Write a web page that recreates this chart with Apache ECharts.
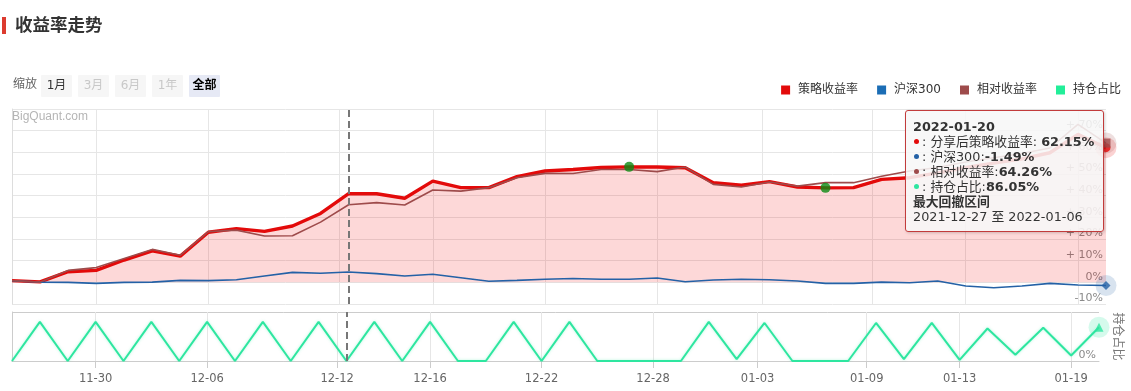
<!DOCTYPE html>
<html><head><meta charset="utf-8">
<script src="https://cdn.jsdelivr.net/npm/echarts@6/dist/echarts.min.js"></script>
<style>html,body{margin:0;padding:0;background:#fff}#c{width:1131px;height:391px}</style>
</head><body><div id="c"></div>
<script>
const dates = ['2021-11-25','2021-11-26','2021-11-29','2021-11-30','2021-12-01','2021-12-02','2021-12-03','2021-12-06','2021-12-07','2021-12-08','2021-12-09','2021-12-10','2021-12-13','2021-12-14','2021-12-15','2021-12-16','2021-12-17','2021-12-20','2021-12-21','2021-12-22','2021-12-23','2021-12-24','2021-12-27','2021-12-28','2021-12-29','2021-12-30','2021-12-31','2022-01-04','2022-01-05','2022-01-06','2022-01-07','2022-01-10','2022-01-11','2022-01-12','2022-01-13','2022-01-14','2022-01-17','2022-01-18','2022-01-19','2022-01-20'];
const strategy = [0.8,0.2,4.9,5.5,10.3,14.5,12.1,23.1,24.8,23.5,26.0,31.8,40.9,40.9,38.8,46.7,43.7,43.7,48.8,51.4,52.1,53.0,53.3,53.2,52.9,46.0,44.8,46.5,44.0,43.6,43.7,47.5,48.3,50.5,53.0,55.0,57.0,59.8,68.3,62.15];
const hs300 = [0.7,0.1,0.0,-0.5,0.0,0.1,0.9,0.8,1.2,2.9,4.6,4.2,4.8,4.0,2.9,3.7,2.1,0.5,0.9,1.4,1.8,1.4,1.4,2.0,0.3,1.1,1.4,1.2,0.6,-0.5,-0.5,0.1,-0.2,0.6,-1.7,-2.5,-1.7,-0.5,-1.2,-1.49];
const relative = [0.8,0.1,5.5,6.8,11.0,15.2,12.5,23.4,24.1,21.4,21.5,27.8,35.8,36.8,35.7,42.6,42.1,43.7,48.3,50.3,50.2,52.1,52.1,51.1,53.2,45.2,44.0,46.3,44.4,46.0,46.0,49.0,51.4,53.0,55.5,57.5,59.5,62.0,72.9,64.26];
const position = [0,100,0,100,0,100,0,100,0,100,0,100,0,100,0,100,0,0,100,0,100,0,0,0,0,100,5,97,0,0,0,97,5,97,3,83,16,85,14,86.05];
const tickDates = ['2021-11-30','2021-12-06','2021-12-12','2021-12-16','2021-12-22','2021-12-28','2022-01-03','2022-01-09','2022-01-13','2022-01-19'];
const markDate = '2021-12-13';
const drawdownStart = '2021-12-27';
const drawdownEnd = '2022-01-06';
const zoomLabels = ['1月','3月','6月','1年','全部'];
const seriesNames = ['策略收益率','沪深300','相对收益率','持仓占比'];

const FONT = '"DejaVu Sans","Noto Sans CJK SC",sans-serif';
const C_RED = '#e30a0a', C_BLUE = '#2461a6', C_BROWN = '#9e4b4b', C_GREEN = '#2ee6a0';

function dayNum(s){ return Date.parse(s + 'T00:00:00Z') / 86400000; }
const dn = dates.map(dayNum);
function posOf(s){
  const d = dayNum(s);
  for (let i = 0; i < dn.length - 1; i++) {
    if (d >= dn[i] && d < dn[i+1]) return i + (d - dn[i]) / (dn[i+1] - dn[i]);
  }
  return dn.length - 1;
}
const tickPos = tickDates.map(posOf);
const last = dates.length - 1;
const markIdx = posOf(markDate);
const ddS = dates.indexOf(drawdownStart), ddE = dates.indexOf(drawdownEnd);

function xLabel(v){
  let k = 0, b = 1e9;
  tickPos.forEach((p, j) => { const d = Math.abs(p - v); if (d < b) { b = d; k = j; } });
  return tickDates[k].slice(5);
}
const pts = arr => arr.map((v, i) => [i, v]);
const dot = c => '<span style="display:inline-block;width:5px;height:5px;border-radius:50%;background:' + c + ';vertical-align:middle;margin:0 3px 2px 1px"></span>';

const tipHtml =
  '<div style="font-weight:bold">' + dates[last] + '</div>' +
  '<div>' + dot(C_RED) + ': 分享后策略收益率: <b>' + strategy[last].toFixed(2) + '%</b></div>' +
  '<div>' + dot(C_BLUE) + ': 沪深300:<b>' + hs300[last].toFixed(2) + '%</b></div>' +
  '<div>' + dot(C_BROWN) + ': 相对收益率:<b>' + relative[last].toFixed(2) + '%</b></div>' +
  '<div>' + dot(C_GREEN) + ': 持仓占比:<b>' + position[last].toFixed(2) + '%</b></div>' +
  '<div style="font-weight:bold">最大回撤区间</div>' +
  '<div>' + drawdownStart + ' 至 ' + drawdownEnd + '</div>';

const btnX = [41, 78, 115, 152, 189];
const graphics = [
  {type:'rect', left:2, top:17, shape:{width:4, height:17}, style:{fill:'#dc3b2f'}},
  {type:'text', x:15, y:26, style:{text:'收益率走势', verticalAlign:'middle', fontSize:17.5, fontWeight:'bold', fill:'#333', fontFamily:FONT}},
  {type:'text', left:13, top:79, style:{text:'缩放', fontSize:12, fill:'#666', fontFamily:FONT}},
  {type:'text', left:12, top:111, z:100, style:{text:'BigQuant.com', fontSize:12, fill:'#b5b5b5', fontFamily:'"Liberation Sans",Arial,sans-serif'}}
];
zoomLabels.forEach((t, j) => {
  const active = j === 4, enabled = j === 0 || j === 4;
  graphics.push({type:'rect', left:btnX[j], top:75, shape:{width:31, height:22, r:1}, style:{fill: active ? '#e6e9f5' : '#f6f6f6'}});
  graphics.push({type:'text', x:btnX[j] + 15.5, y:86, style:{text:t, align:'center', verticalAlign:'middle', fontSize:12, fontWeight: active ? 'bold' : 'normal', fill: active ? '#000' : (enabled ? '#333' : '#c8c8c8'), fontFamily:FONT}});
});

const chart = echarts.init(document.getElementById('c'), null, {renderer:'canvas'});
chart.setOption({
  animation:false,
  textStyle:{fontFamily:FONT},
  graphic:graphics,
  legend:{
    right:5, top:79, itemWidth:9, itemHeight:9, itemGap:19, icon:'rect',
    textStyle:{fontSize:12, color:'#333', padding:[0,0,0,3]},
    data:seriesNames.map((n, i) => ({name:n, itemStyle:{color:[C_RED, '#1b6db5', C_BROWN, '#22ee99'][i]}}))
  },
  tooltip:{
    show:true, trigger:'item', triggerOn:'mousemove', alwaysShowContent:true, position:[905,110],
    transitionDuration:0, padding:[8,9,7,7], backgroundColor:'rgba(247,247,247,0.88)',
    borderColor:'#c23b3b', borderWidth:1, borderRadius:3,
    textStyle:{fontSize:12.8, color:'#333', fontFamily:FONT},
    extraCssText:'box-shadow:1px 1px 3px rgba(0,0,0,0.18);line-height:15px;',
    formatter:() => tipHtml
  },
  grid:[
    {left:12, right:25, top:109, height:195},
    {left:12, right:25, top:312, height:49}
  ],
  xAxis:[
    {gridIndex:0, type:'value', min:0, max:last, axisLine:{show:false}, axisLabel:{show:false},
     axisTick:{show:false, customValues:tickPos}, splitLine:{show:true, lineStyle:{color:'#e6e6e6'}}},
    {gridIndex:1, type:'value', min:0, max:last, axisLine:{show:true, lineStyle:{color:'#ccc'}},
     axisTick:{show:true, length:7, lineStyle:{color:'#ccc'}, customValues:tickPos},
     axisLabel:{show:true, customValues:tickPos, formatter:xLabel, color:'#666', fontSize:11.5, margin:12},
     splitLine:{show:true, lineStyle:{color:'#e6e6e6'}}}
  ],
  yAxis:[
    {gridIndex:0, type:'value', position:'right', min:-10, max:80, interval:10,
     axisLine:{show:true, lineStyle:{color:'#ddd'}}, axisTick:{show:false},
     splitLine:{lineStyle:{color:'#e6e6e6'}},
     axisLabel:{inside:true, margin:3, verticalAlign:'bottom', color:'#8a8a8a', fontSize:11, showMaxLabel:false,
       formatter:v => (v > 0 ? '+ ' : '') + v + '%'}},
    {gridIndex:1, type:'value', position:'right', min:0, max:125, interval:125,
     axisLine:{show:true, lineStyle:{color:'#ccc'}}, axisTick:{show:false},
     splitLine:{lineStyle:{color:'#ccc'}},
     axisLabel:{inside:true, margin:3, verticalAlign:'bottom', color:'#8a8a8a', fontSize:11, showMaxLabel:false,
       formatter:v => v + '%'},
     name:'持仓占比', nameLocation:'middle', nameRotate:-90, nameGap:12,
     nameTextStyle:{color:'#777', fontSize:12}}
  ],
  series:[
    {name:seriesNames[0], type:'line', xAxisIndex:0, yAxisIndex:0, data:pts(strategy), symbol:'none',
     lineStyle:{color:C_RED, width:3.4}, itemStyle:{color:C_RED}, areaStyle:{color:'rgba(245,0,0,0.22)'},
     emphasis:{disabled:true}, tooltip:{show:false},
     markLine:{silent:true, symbol:'none', label:{show:false}, lineStyle:{color:'#777', type:[7,4], width:2}, data:[{xAxis:markIdx}]}},
    {name:seriesNames[1], type:'line', xAxisIndex:0, yAxisIndex:0, data:pts(hs300), symbol:'none',
     lineStyle:{color:C_BLUE, width:1.6}, itemStyle:{color:C_BLUE}, emphasis:{disabled:true}, tooltip:{show:false}},
    {name:seriesNames[2], type:'line', xAxisIndex:0, yAxisIndex:0, data:pts(relative), symbol:'none',
     lineStyle:{color:C_BROWN, width:1.6}, itemStyle:{color:C_BROWN}, emphasis:{disabled:true}, tooltip:{show:false}},
    {name:seriesNames[3], type:'line', xAxisIndex:1, yAxisIndex:1, data:pts(position), symbol:'none',
     lineStyle:{color:C_GREEN, width:2, shadowColor:'rgba(46,230,160,0.35)', shadowBlur:3}, itemStyle:{color:C_GREEN},
     emphasis:{disabled:true}, tooltip:{show:false},
     markLine:{silent:true, symbol:'none', label:{show:false}, lineStyle:{color:'#777', type:[7,4], width:2}, data:[{xAxis:markIdx}]}},
    {name:'回撤点', type:'scatter', xAxisIndex:0, yAxisIndex:0, silent:true, z:6, symbolSize:10,
     itemStyle:{color:'#0b8a12'}, tooltip:{show:false},
     data:[[ddS, strategy[ddS]], [ddE, strategy[ddE]]]},
    {name:'halo', type:'scatter', xAxisIndex:0, yAxisIndex:0, silent:true, z:5, symbolSize:21, tooltip:{show:false},
     data:[
       {value:[last, strategy[last]], itemStyle:{color:'rgba(230,0,0,0.22)'}},
       {value:[last, relative[last]], itemStyle:{color:'rgba(160,75,75,0.22)'}},
       {value:[last, hs300[last]], itemStyle:{color:'rgba(36,97,166,0.22)'}}
     ]},
    {name:'halo2', type:'scatter', xAxisIndex:1, yAxisIndex:1, silent:true, z:5, symbolSize:21, tooltip:{show:false},
     data:[{value:[last, position[last]], itemStyle:{color:'rgba(46,230,160,0.25)'}}]},
    {name:'marks', type:'scatter', xAxisIndex:0, yAxisIndex:0, z:7, emphasis:{disabled:true},
     data:[
       {value:[last, strategy[last]], symbol:'circle', symbolSize:9, itemStyle:{color:C_RED}},
       {value:[last, relative[last]], symbol:'rect', symbolSize:9, itemStyle:{color:C_BROWN}},
       {value:[last, hs300[last]], symbol:'diamond', symbolSize:9, itemStyle:{color:C_BLUE}}
     ]},
    {name:'marks2', type:'scatter', xAxisIndex:1, yAxisIndex:1, silent:true, z:7, tooltip:{show:false},
     data:[{value:[last, position[last]], symbol:'triangle', symbolSize:9, itemStyle:{color:C_GREEN}}]}
  ]
});
function showTip(){ chart.dispatchAction({type:'showTip', seriesIndex:7, dataIndex:0}); }
showTip();
setTimeout(showTip, 50);
</script></body></html>
